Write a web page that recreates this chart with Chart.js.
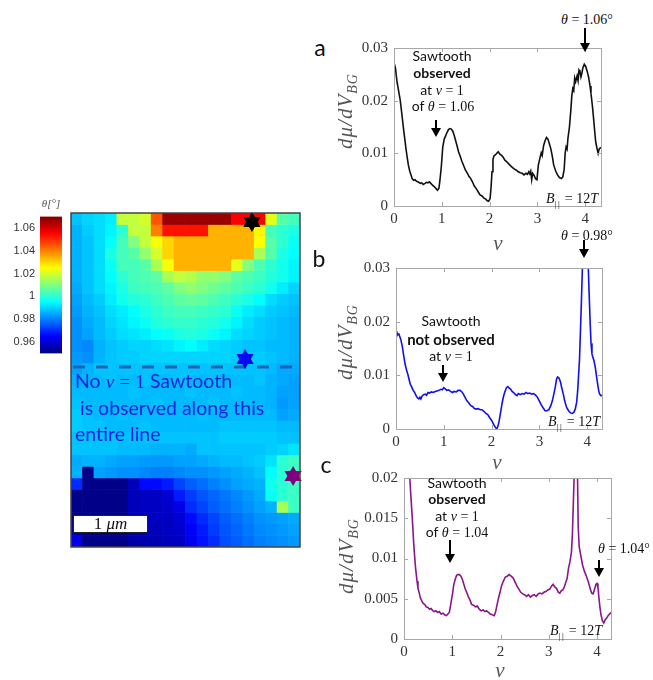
<!DOCTYPE html>
<html>
<head>
<meta charset="utf-8">
<script src="https://cdn.jsdelivr.net/npm/chart.js@4.4.1/dist/chart.umd.min.js"></script>
<style>
body { margin:0; width:653px; height:680px; position:relative; overflow:hidden; background:#fff; font-family:Lato, "Open Sans", sans-serif; color:#111; }
canvas { position:absolute; }
.t { position:absolute; white-space:nowrap; transform:translate(-50%,-50%); font-size:14px; }
.l { position:absolute; white-space:nowrap; transform:translateY(-50%); }
.m { font-family:"Liberation Serif", serif; }
.i { font-style:italic; }
.yt { position:absolute; white-space:nowrap; transform:translate(-50%,-50%) rotate(-90deg); font-family:"Liberation Serif", serif; font-style:italic; font-size:21px; color:#555; letter-spacing:1px; }
.yt sub { font-size:14px; }
.xt { position:absolute; transform:translate(-50%,-50%); font-family:"Liberation Serif", serif; font-style:italic; font-size:21px; color:#555; }
.note { color:#1c1ce6; font-size:19.5px; }
.par { font-size:9px; letter-spacing:1.5px; font-style:normal; }
.bar { position:absolute; left:73px; top:515px; width:73px; height:16px; background:#fff; border:1.5px solid #222; text-align:center; font-family:"Liberation Serif", serif; font-size:17px; line-height:16px; }
</style>
</head>
<body>
<canvas id="cbar" width="63" height="160" style="left:0px;top:205px"></canvas>
<canvas id="map" width="249" height="354" style="left:61px;top:203px"></canvas>
<canvas id="ca" width="275" height="197" style="left:338px;top:33px"></canvas>
<canvas id="cb" width="274" height="200" style="left:340px;top:253px"></canvas>
<canvas id="cc" width="275" height="200" style="left:348px;top:463px"></canvas>

<div class="t m i" style="left:51px;top:203px;font-size:11px;color:#555">θ[°]</div>

<div class="l note" style="left:75px;top:381px">No <span class="m i">ν</span> <span class="m">= 1</span> Sawtooth</div>
<div class="l note" style="left:75px;top:407px">&nbsp;is observed along this</div>
<div class="l note" style="left:75px;top:433px">entire line</div>
<div class="bar">1 <span class="i">μm</span></div>

<div class="t" style="left:320px;top:47px;font-size:23px">a</div>
<div class="t" style="left:319px;top:258px;font-size:23px">b</div>
<div class="t" style="left:326px;top:464px;font-size:23px">c</div>

<div class="yt" style="left:347px;top:111px">dμ/dV<sub>BG</sub></div>
<div class="yt" style="left:347px;top:342px">dμ/dV<sub>BG</sub></div>
<div class="yt" style="left:348px;top:556px">dμ/dV<sub>BG</sub></div>
<div class="xt" style="left:498px;top:243px">ν</div>
<div class="xt" style="left:497px;top:462px">ν</div>
<div class="xt" style="left:500px;top:670px">ν</div>

<div class="t" style="left:442px;top:55px">Sawtooth</div>
<div class="t" style="left:442px;top:72px;font-weight:bold">observed</div>
<div class="t" style="left:442px;top:90px">at <span class="m i">ν</span> <span class="m">= 1</span></div>
<div class="t" style="left:443px;top:106px">of <span class="m i">θ</span> <span class="m">= 1.06</span></div>
<div class="t m" style="left:587px;top:20px"><span class="i">θ</span> = 1.06°</div>
<div class="t m" style="left:572px;top:200px"><span class="i">B</span><sub class="par">||</sub> = 12<span class="i">T</span></div>

<div class="t" style="left:451px;top:320px">Sawtooth</div>
<div class="t" style="left:451px;top:339px;font-weight:bold;font-size:15px">not observed</div>
<div class="t" style="left:451px;top:356px">at <span class="m i">ν</span> <span class="m">= 1</span></div>
<div class="t m" style="left:587px;top:236px"><span class="i">θ</span> = 0.98°</div>
<div class="t m" style="left:574px;top:423px"><span class="i">B</span><sub class="par">||</sub> = 12<span class="i">T</span></div>

<div class="t" style="left:457px;top:482px">Sawtooth</div>
<div class="t" style="left:457px;top:498px;font-weight:bold">observed</div>
<div class="t" style="left:457px;top:516px">at <span class="m i">ν</span> <span class="m">= 1</span></div>
<div class="t" style="left:457px;top:532px">of <span class="m i">θ</span> <span class="m">= 1.04</span></div>
<div class="t m" style="left:624px;top:549px"><span class="i">θ</span> = 1.04°</div>
<div class="t m" style="left:576px;top:632px"><span class="i">B</span><sub class="par">||</sub> = 12<span class="i">T</span></div>

<svg width="653" height="680" style="position:absolute;left:0;top:0;pointer-events:none">
  <g id="arrows" fill="#000" stroke="#000"></g>
</svg>

<script>
// twist angle map (degrees), rows top -> bottom, 20 columns
const thetaMap = [
  [0.988,0.990,0.991,0.993,1.018,1.018,1.020,1.045,1.067,1.067,1.067,1.067,1.067,1.067,1.055,1.055,1.055,1.022,1.005,1.003],
  [0.986,0.989,0.991,0.994,1.000,1.018,1.018,1.040,1.053,1.053,1.053,1.053,1.034,1.034,1.034,1.034,1.026,1.003,1.000,0.998],
  [0.986,0.988,0.991,0.995,1.003,1.010,1.018,1.024,1.030,1.034,1.034,1.034,1.034,1.034,1.034,1.034,1.025,1.005,1.000,0.996],
  [0.986,0.988,0.991,0.998,1.003,1.005,1.012,1.020,1.030,1.034,1.034,1.034,1.034,1.034,1.034,1.034,1.015,1.005,0.998,0.995],
  [0.986,0.988,0.991,0.996,1.003,1.003,1.005,1.015,1.024,1.034,1.034,1.034,1.034,1.034,1.022,1.010,1.004,1.000,0.997,0.994],
  [0.986,0.988,0.991,0.995,1.000,1.003,1.004,1.006,1.015,1.018,1.016,1.012,1.012,1.010,1.006,1.004,1.002,0.999,0.997,0.994],
  [0.985,0.988,0.991,0.994,0.998,1.002,1.003,1.004,1.006,1.010,1.012,1.010,1.008,1.006,1.004,1.002,1.000,0.997,0.993,0.990],
  [0.984,0.987,0.989,0.993,0.997,0.999,1.000,1.002,1.004,1.006,1.007,1.006,1.004,1.002,1.000,0.998,0.995,0.991,0.989,0.988],
  [0.983,0.986,0.988,0.991,0.993,0.995,0.998,1.000,1.002,1.003,1.003,1.002,1.001,1.000,0.996,0.993,0.991,0.989,0.988,0.987],
  [0.982,0.985,0.987,0.990,0.992,0.994,0.996,0.999,1.000,1.001,1.001,1.000,0.999,0.997,0.994,0.991,0.989,0.988,0.987,0.986],
  [0.982,0.984,0.987,0.989,0.991,0.992,0.993,0.995,0.996,0.998,0.999,0.998,0.996,0.994,0.991,0.990,0.989,0.988,0.987,0.986],
  [0.982,0.981,0.986,0.988,0.989,0.990,0.990,0.991,0.992,0.994,0.995,0.993,0.991,0.990,0.989,0.988,0.988,0.987,0.987,0.986],
  [0.983,0.982,0.986,0.988,0.989,0.989,0.990,0.990,0.990,0.990,0.990,0.990,0.990,0.990,0.989,0.989,0.989,0.988,0.987,0.986],
  [0.984,0.986,0.988,0.988,0.988,0.988,0.988,0.988,0.988,0.988,0.988,0.988,0.988,0.988,0.988,0.988,0.988,0.987,0.985,0.985],
  [0.986,0.987,0.987,0.988,0.987,0.987,0.988,0.987,0.987,0.988,0.987,0.987,0.988,0.987,0.987,0.987,0.988,0.986,0.985,0.984],
  [0.987,0.987,0.987,0.987,0.987,0.988,0.987,0.987,0.987,0.987,0.988,0.987,0.987,0.987,0.988,0.987,0.987,0.986,0.984,0.984],
  [0.988,0.987,0.987,0.987,0.987,0.987,0.987,0.988,0.987,0.987,0.987,0.987,0.988,0.987,0.987,0.987,0.987,0.986,0.983,0.984],
  [0.989,0.988,0.987,0.987,0.988,0.987,0.987,0.987,0.987,0.987,0.987,0.988,0.987,0.987,0.987,0.987,0.987,0.987,0.984,0.985],
  [0.989,0.988,0.988,0.987,0.987,0.987,0.988,0.987,0.987,0.987,0.987,0.987,0.987,0.988,0.988,0.988,0.988,0.988,0.987,0.987],
  [0.988,0.988,0.988,0.988,0.988,0.988,0.988,0.988,0.988,0.988,0.988,0.988,0.988,0.989,0.989,0.989,0.989,0.989,0.988,0.988],
  [0.988,0.988,0.988,0.988,0.987,0.987,0.987,0.986,0.986,0.986,0.985,0.988,0.988,0.988,0.988,0.988,0.988,0.989,0.990,0.992],
  [0.985,0.986,0.986,0.985,0.984,0.984,0.983,0.983,0.983,0.984,0.984,0.985,0.986,0.987,0.987,0.988,0.989,0.992,1.000,1.002],
  [0.986,0.951,0.984,0.983,0.982,0.982,0.981,0.980,0.980,0.981,0.982,0.982,0.983,0.984,0.985,0.986,0.988,0.995,1.000,1.003],
  [0.970,0.951,0.951,0.951,0.951,0.957,0.966,0.966,0.968,0.973,0.976,0.978,0.980,0.982,0.984,0.985,0.986,0.997,1.000,1.002],
  [0.951,0.951,0.951,0.951,0.951,0.957,0.958,0.958,0.960,0.968,0.972,0.975,0.977,0.979,0.981,0.983,0.985,0.996,1.000,1.002],
  [0.951,0.951,0.951,0.951,0.951,0.957,0.958,0.958,0.959,0.962,0.970,0.973,0.976,0.978,0.980,0.982,0.984,0.986,1.015,1.002],
  [0.951,0.951,0.951,0.951,0.951,0.956,0.957,0.958,0.958,0.960,0.966,0.970,0.973,0.976,0.978,0.980,0.982,0.983,0.984,0.985],
  [0.955,0.951,0.951,0.951,0.951,0.956,0.957,0.957,0.958,0.959,0.964,0.968,0.972,0.975,0.977,0.979,0.981,0.982,0.983,0.984],
  [0.962,0.951,0.951,0.951,0.951,0.955,0.956,0.956,0.957,0.958,0.963,0.967,0.970,0.974,0.976,0.978,0.980,0.981,0.982,0.983]
];
const thetaMin = 0.95, thetaMax = 1.07;
const colorTicks = [0.96, 0.98, 1.00, 1.02, 1.04, 1.06];

// star markers on the map: [column, row, colour]
const markers = [[15.3, 0.78, '#000000'], [14.7, 12.67, '#0a0af0'], [18.9, 22.83, '#800080']];
const dashRow = 13.37;

// panel a, theta = 1.06
const nuA = [0,0.03,0.06,0.09,0.13,0.16,0.20,0.23,0.25,0.28,0.30,0.33,0.36,0.38,0.41,0.44,0.47,0.50,0.55,0.58,0.61,0.65,0.68,0.71,0.74,0.77,0.80,0.84,0.88,0.91,0.94,0.96,0.99,1.02,1.05,1.08,1.11,1.14,1.17,1.20,1.23,1.26,1.29,1.32,1.35,1.39,1.42,1.46,1.49,1.53,1.57,1.60,1.64,1.68,1.72,1.76,1.80,1.84,1.88,1.92,1.95,1.98,2.01,2.03,2.05,2.07,2.09,2.12,2.15,2.18,2.21,2.25,2.28,2.32,2.36,2.40,2.44,2.48,2.52,2.56,2.60,2.64,2.68,2.72,2.76,2.79,2.82,2.84,2.86,2.88,2.90,2.93,2.96,2.99,3.02,3.05,3.08,3.10,3.13,3.16,3.19,3.22,3.25,3.28,3.31,3.34,3.38,3.42,3.46,3.50,3.53,3.56,3.58,3.60,3.62,3.64,3.67,3.70,3.72,3.74,3.76,3.78,3.80,3.83,3.85,3.87,3.89,3.91,3.93,3.95,3.98,4.01,4.04,4.07,4.10,4.12,4.15,4.17,4.20,4.22,4.25,4.27,4.29,4.31,4.33];
const dA = [0.0272,0.0262,0.0238,0.0222,0.0201,0.0178,0.0146,0.0124,0.0109,0.0090,0.0078,0.0066,0.0058,0.0052,0.0049,0.0050,0.0047,0.0046,0.0043,0.0044,0.0041,0.0043,0.0045,0.0044,0.0046,0.0043,0.0040,0.0037,0.0033,0.0030,0.0034,0.0048,0.0075,0.0112,0.0127,0.0133,0.0140,0.0145,0.0147,0.0146,0.0142,0.0134,0.0124,0.0114,0.0103,0.0093,0.0085,0.0076,0.0069,0.0063,0.0056,0.0053,0.0046,0.0038,0.0033,0.0027,0.0021,0.0019,0.0015,0.0013,0.0010,0.0009,0.0014,0.0035,0.0065,0.0088,0.0095,0.0097,0.0100,0.0103,0.0099,0.0096,0.0093,0.0087,0.0084,0.0080,0.0076,0.0073,0.0070,0.0068,0.0065,0.0063,0.0062,0.0059,0.0062,0.0060,0.0065,0.0061,0.0066,0.0050,0.0062,0.0058,0.0052,0.0050,0.0078,0.0090,0.0101,0.0096,0.0115,0.0124,0.0130,0.0127,0.0118,0.0109,0.0095,0.0078,0.0067,0.0059,0.0054,0.0052,0.0055,0.0070,0.0100,0.0112,0.0108,0.0130,0.0150,0.0183,0.0210,0.0223,0.0219,0.0243,0.0236,0.0247,0.0238,0.0258,0.0255,0.0245,0.0252,0.0262,0.0269,0.0265,0.0256,0.0245,0.0228,0.0214,0.0190,0.0171,0.0140,0.0121,0.0108,0.0100,0.0108,0.0110,0.0111];

// panel b, theta = 0.98
const nuB = [0,0.02,0.04,0.06,0.08,0.10,0.13,0.16,0.19,0.22,0.25,0.28,0.30,0.33,0.36,0.39,0.42,0.45,0.48,0.50,0.52,0.55,0.58,0.61,0.64,0.67,0.70,0.74,0.78,0.82,0.86,0.90,0.94,0.97,1.00,1.03,1.06,1.10,1.14,1.18,1.22,1.26,1.30,1.34,1.38,1.41,1.44,1.48,1.52,1.56,1.60,1.64,1.68,1.72,1.76,1.80,1.84,1.88,1.92,1.96,2.00,2.04,2.07,2.10,2.12,2.14,2.16,2.19,2.22,2.25,2.28,2.31,2.34,2.37,2.40,2.43,2.46,2.50,2.53,2.56,2.60,2.64,2.68,2.72,2.76,2.80,2.84,2.88,2.92,2.96,3.00,3.04,3.08,3.12,3.16,3.20,3.24,3.27,3.30,3.33,3.36,3.38,3.41,3.44,3.47,3.50,3.53,3.57,3.61,3.65,3.69,3.72,3.75,3.78,3.80,3.82,3.84,3.86,3.88,3.90,3.92,3.95,3.98,4.00,4.02,4.04,4.06,4.08,4.10,4.12,4.14,4.17,4.20,4.22,4.24,4.26,4.29,4.31];
const dB = [0.0182,0.0178,0.0176,0.0177,0.0172,0.0167,0.0155,0.0137,0.0121,0.0110,0.0101,0.0090,0.0083,0.0078,0.0072,0.0068,0.0062,0.0058,0.0056,0.0059,0.0056,0.0062,0.0064,0.0065,0.0063,0.0068,0.0067,0.0069,0.0068,0.0070,0.0071,0.0072,0.0074,0.0073,0.0077,0.0075,0.0072,0.0073,0.0070,0.0068,0.0070,0.0069,0.0072,0.0072,0.0069,0.0065,0.0060,0.0053,0.0049,0.0044,0.0042,0.0038,0.0037,0.0038,0.0036,0.0036,0.0033,0.0029,0.0027,0.0021,0.0016,0.0009,0.0004,0.0001,0.0002,0.0008,0.0016,0.0032,0.0048,0.0061,0.0070,0.0077,0.0079,0.0076,0.0074,0.0070,0.0068,0.0064,0.0062,0.0066,0.0064,0.0066,0.0065,0.0068,0.0066,0.0067,0.0065,0.0066,0.0063,0.0059,0.0052,0.0045,0.0039,0.0034,0.0034,0.0036,0.0044,0.0052,0.0064,0.0077,0.0093,0.0097,0.0095,0.0088,0.0076,0.0065,0.0052,0.0040,0.0034,0.0030,0.0029,0.0031,0.0037,0.0050,0.0070,0.0100,0.0131,0.0185,0.0240,0.0300,0.0380,0.0450,0.0440,0.0380,0.0310,0.0255,0.0203,0.0160,0.0140,0.0133,0.0128,0.0115,0.0095,0.0083,0.0072,0.0065,0.0062,0.0063];

// panel c, theta = 1.04
const nuC = [0,0.03,0.06,0.09,0.12,0.14,0.17,0.20,0.22,0.24,0.27,0.29,0.32,0.34,0.37,0.40,0.43,0.46,0.50,0.53,0.56,0.60,0.63,0.66,0.70,0.73,0.77,0.81,0.84,0.88,0.91,0.94,0.96,0.98,1.01,1.03,1.06,1.09,1.12,1.15,1.18,1.21,1.24,1.27,1.30,1.33,1.37,1.40,1.44,1.48,1.52,1.56,1.60,1.64,1.68,1.71,1.75,1.79,1.83,1.87,1.90,1.93,1.96,1.99,2.02,2.06,2.10,2.14,2.18,2.22,2.26,2.30,2.34,2.38,2.42,2.46,2.50,2.54,2.58,2.62,2.66,2.70,2.74,2.78,2.82,2.86,2.90,2.94,2.98,3.02,3.06,3.09,3.12,3.16,3.20,3.23,3.26,3.29,3.32,3.35,3.38,3.41,3.44,3.47,3.49,3.51,3.53,3.55,3.57,3.59,3.61,3.63,3.66,3.70,3.74,3.78,3.82,3.86,3.89,3.92,3.95,3.98,4.00,4.02,4.04,4.06,4.08,4.11,4.14,4.17,4.20,4.23,4.26,4.29];
const dC = [0.0380,0.0330,0.0265,0.0225,0.0200,0.0180,0.0152,0.0120,0.0103,0.0088,0.0072,0.0063,0.0056,0.0051,0.0047,0.0044,0.0043,0.0040,0.0039,0.0037,0.0038,0.0035,0.0034,0.0035,0.0033,0.0034,0.0031,0.0032,0.0030,0.0029,0.0031,0.0033,0.0040,0.0047,0.0058,0.0067,0.0074,0.0079,0.0080,0.0080,0.0078,0.0074,0.0068,0.0062,0.0058,0.0053,0.0048,0.0043,0.0042,0.0040,0.0041,0.0037,0.0035,0.0036,0.0034,0.0035,0.0033,0.0031,0.0030,0.0029,0.0034,0.0043,0.0051,0.0058,0.0066,0.0072,0.0077,0.0078,0.0080,0.0078,0.0076,0.0071,0.0066,0.0062,0.0058,0.0056,0.0055,0.0053,0.0055,0.0052,0.0054,0.0055,0.0053,0.0056,0.0057,0.0056,0.0058,0.0059,0.0061,0.0062,0.0066,0.0068,0.0065,0.0063,0.0058,0.0057,0.0060,0.0061,0.0064,0.0070,0.0075,0.0088,0.0096,0.0108,0.0130,0.0170,0.0210,0.0260,0.0290,0.0230,0.0140,0.0115,0.0105,0.0092,0.0084,0.0078,0.0071,0.0062,0.0057,0.0056,0.0062,0.0068,0.0069,0.0064,0.0051,0.0040,0.0031,0.0023,0.0020,0.0024,0.0026,0.0029,0.0031,0.0033];

// arrows [x, yStart, yEnd]
const arrows = [[436,120,137],[585,28,52],[443,365,382],[584,240,258],[450,540,563],[599,560,577]];

function jet(v) {
  const t = Math.min(1, Math.max(0, (v - thetaMin) / (thetaMax - thetaMin)));
  const c = k => Math.round(255 * Math.min(1, Math.max(0, 1.5 - Math.abs(4 * t - k))));
  return 'rgb(' + c(3) + ',' + c(2) + ',' + c(1) + ')';
}

function hexagram(ctx, x, y, r, color) {
  ctx.save();
  ctx.fillStyle = color;
  [-90, 90].forEach(a0 => {
    ctx.beginPath();
    for (let k = 0; k < 3; k++) {
      const a = (a0 + k * 120) * Math.PI / 180;
      const px = x + r * Math.cos(a), py = y + r * Math.sin(a);
      k ? ctx.lineTo(px, py) : ctx.moveTo(px, py);
    }
    ctx.closePath();
    ctx.fill();
  });
  ctx.restore();
}

// dashed line, stars, frame for the map
const mapDecor = {
  id: 'mapDecor',
  afterDatasetsDraw(chart) {
    const { ctx, chartArea: a, scales } = chart;
    const y = scales.y.getPixelForValue(dashRow);
    ctx.save();
    ctx.strokeStyle = 'rgba(35,95,175,0.95)';
    ctx.lineWidth = 3;
    ctx.setLineDash([12, 11]);
    ctx.beginPath();
    ctx.moveTo(a.left + 2, y);
    ctx.lineTo(a.right, y);
    ctx.stroke();
    ctx.setLineDash([]);
    markers.forEach(m => hexagram(ctx, scales.x.getPixelForValue(m[0]), scales.y.getPixelForValue(m[1]), 10, m[2]));
    ctx.strokeStyle = '#444';
    ctx.lineWidth = 1.5;
    ctx.strokeRect(a.left, a.top, a.right - a.left, a.bottom - a.top);
    ctx.restore();
  }
};

const cols = thetaMap[0].map((_, i) => String(i));
new Chart(document.getElementById('map'), {
  type: 'bar',
  data: {
    labels: cols,
    datasets: thetaMap.map(row => ({
      data: row.map(() => 1),
      backgroundColor: row.map(jet),
      borderWidth: 0,
      barPercentage: 1,
      categoryPercentage: 1
    }))
  },
  options: {
    responsive: false, animation: false, events: [],
    layout: { padding: 10 },
    plugins: { legend: { display: false }, tooltip: { enabled: false } },
    scales: {
      x: { stacked: true, display: false },
      y: { stacked: true, display: false, min: 0, max: thetaMap.length, reverse: true }
    }
  },
  plugins: [mapDecor]
});

// colour bar
new Chart(document.getElementById('cbar'), {
  type: 'bar',
  data: {
    labels: ['θ'],
    datasets: [{
      data: [[thetaMin, thetaMax]],
      borderWidth: 0,
      barPercentage: 1,
      categoryPercentage: 1,
      backgroundColor(c) {
        const a = c.chart.chartArea;
        if (!a) return '#00f';
        const g = c.chart.ctx.createLinearGradient(0, a.bottom, 0, a.top);
        [0, 0.125, 0.375, 0.625, 0.875, 1].forEach(s => g.addColorStop(s, jet(thetaMin + s * (thetaMax - thetaMin))));
        return g;
      }
    }]
  },
  options: {
    responsive: false, animation: false, events: [],
    layout: { padding: { top: 8, bottom: 7, right: 1, left: 0 } },
    plugins: { legend: { display: false }, tooltip: { enabled: false } },
    scales: {
      x: { display: false },
      y: {
        min: thetaMin, max: thetaMax,
        grid: { display: false, drawTicks: false }, border: { display: false },
        afterBuildTicks(s) { s.ticks = colorTicks.map(v => ({ value: v })); },
        afterFit(s) { s.width = 40; },
        ticks: { padding: 5, color: '#333', font: { family: 'Liberation Sans', size: 11 },
                 callback: v => String(+v.toFixed(2)) }
      }
    }
  }
});

// MATLAB-like box with inward ticks
const boxTicks = {
  id: 'boxTicks',
  afterDraw(chart) {
    const { ctx, chartArea: a, scales } = chart;
    ctx.save();
    ctx.strokeStyle = '#a8a8a8';
    ctx.lineWidth = 1;
    ctx.strokeRect(a.left + 0.5, a.top + 0.5, a.right - a.left, a.bottom - a.top);
    ctx.beginPath();
    scales.x.ticks.forEach(t => {
      const x = Math.round(scales.x.getPixelForValue(t.value)) + 0.5;
      ctx.moveTo(x, a.bottom); ctx.lineTo(x, a.bottom - 4);
      ctx.moveTo(x, a.top); ctx.lineTo(x, a.top + 4);
    });
    scales.y.ticks.forEach(t => {
      const y = Math.round(scales.y.getPixelForValue(t.value)) + 0.5;
      ctx.moveTo(a.left, y); ctx.lineTo(a.left + 4, y);
      ctx.moveTo(a.right, y); ctx.lineTo(a.right - 4, y);
    });
    ctx.stroke();
    ctx.restore();
  }
};

const tickFont = { family: 'Liberation Serif', size: 15 };
function lineChart(id, xs, ys, color, yMax, yStep, xMax) {
  return new Chart(document.getElementById(id), {
    type: 'line',
    data: { datasets: [{ data: xs.map((x, i) => ({ x: x, y: ys[i] })), borderColor: color, borderWidth: 1.6, pointRadius: 0, tension: 0, fill: false }] },
    options: {
      responsive: false, animation: false, events: [],
      layout: { padding: { top: 10, right: 12, left: 0, bottom: 0 } },
      plugins: { legend: { display: false }, tooltip: { enabled: false } },
      scales: {
        x: {
          type: 'linear', min: 0, max: xMax,
          grid: { display: false, drawTicks: false }, border: { display: false },
          ticks: { stepSize: 1, includeBounds: false, padding: 4, color: '#333', font: tickFont },
          afterFit(s) { s.height = 24; }
        },
        y: {
          min: 0, max: yMax,
          grid: { display: false, drawTicks: false }, border: { display: false },
          ticks: { stepSize: yStep, padding: 6, color: '#333', font: tickFont, callback: v => String(+v.toFixed(3)) },
          afterFit(s) { s.width = 56; }
        }
      }
    },
    plugins: [boxTicks]
  });
}

lineChart('ca', nuA, dA, '#111111', 0.03, 0.01, 4.33);
lineChart('cb', nuB, dB, '#1010f0', 0.03, 0.01, 4.31);
lineChart('cc', nuC, dC, '#8a168a', 0.02, 0.005, 4.29);

// arrows
const g = document.getElementById('arrows');
arrows.forEach(([x, y0, y1]) => {
  g.insertAdjacentHTML('beforeend',
    '<line x1="' + x + '" y1="' + y0 + '" x2="' + x + '" y2="' + (y1 - 7) + '" stroke-width="2"/>' +
    '<polygon stroke="none" points="' + (x - 5) + ',' + (y1 - 9) + ' ' + (x + 5) + ',' + (y1 - 9) + ' ' + x + ',' + y1 + '"/>');
});
</script>
</body>
</html>
